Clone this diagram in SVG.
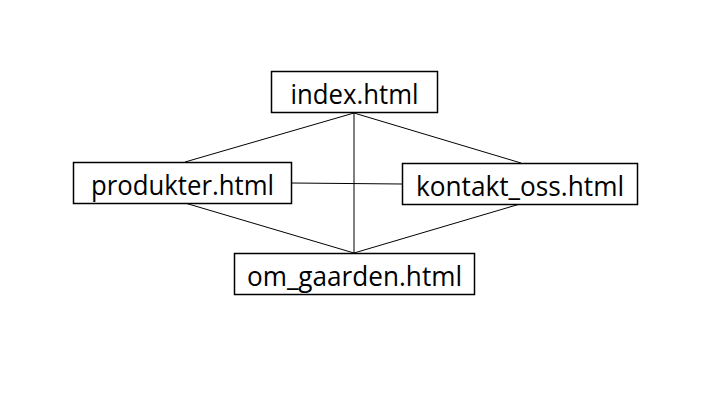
<svg xmlns="http://www.w3.org/2000/svg" width="720" height="405" viewBox="0 0 720 405">
<style>
.box{fill:#fff;stroke:#000;stroke-width:1.5}
.lbl{font-family:"Open Sans","Liberation Sans",sans-serif;font-size:27px;fill:#000;text-anchor:middle;dominant-baseline:central}
.conn line{stroke:#000;stroke-width:1}
</style>
<rect width="720" height="405" fill="#fff"/>
<g id="connectors" class="conn">
<line x1="354" y1="113" x2="185" y2="162"/>
<line x1="354" y1="113" x2="521" y2="163"/>
<line x1="354" y1="113" x2="354" y2="253"/>
<line x1="185" y1="203" x2="354" y2="253"/>
<line x1="520" y1="204" x2="354" y2="253"/>
<line x1="292" y1="183" x2="402" y2="184"/>
</g>
<g id="index">
<rect class="box" x="271.5" y="71.5" width="166" height="41"/>
<text class="lbl" x="354.5" y="93" textLength="128" lengthAdjust="spacingAndGlyphs">index.html</text>
</g>
<g id="produkter">
<rect class="box" x="73.5" y="162.5" width="218" height="41"/>
<text class="lbl" x="182.5" y="184" textLength="183" lengthAdjust="spacingAndGlyphs">produkter.html</text>
</g>
<g id="kontakt_oss">
<rect class="box" x="402.5" y="163.5" width="235" height="41"/>
<text class="lbl" x="520" y="185" textLength="208" lengthAdjust="spacingAndGlyphs">kontakt_oss.html</text>
</g>
<g id="om_gaarden">
<rect class="box" x="234.5" y="253.5" width="240" height="41"/>
<text class="lbl" x="354.5" y="275" textLength="215" lengthAdjust="spacingAndGlyphs">om_gaarden.html</text>
</g>
</svg>
